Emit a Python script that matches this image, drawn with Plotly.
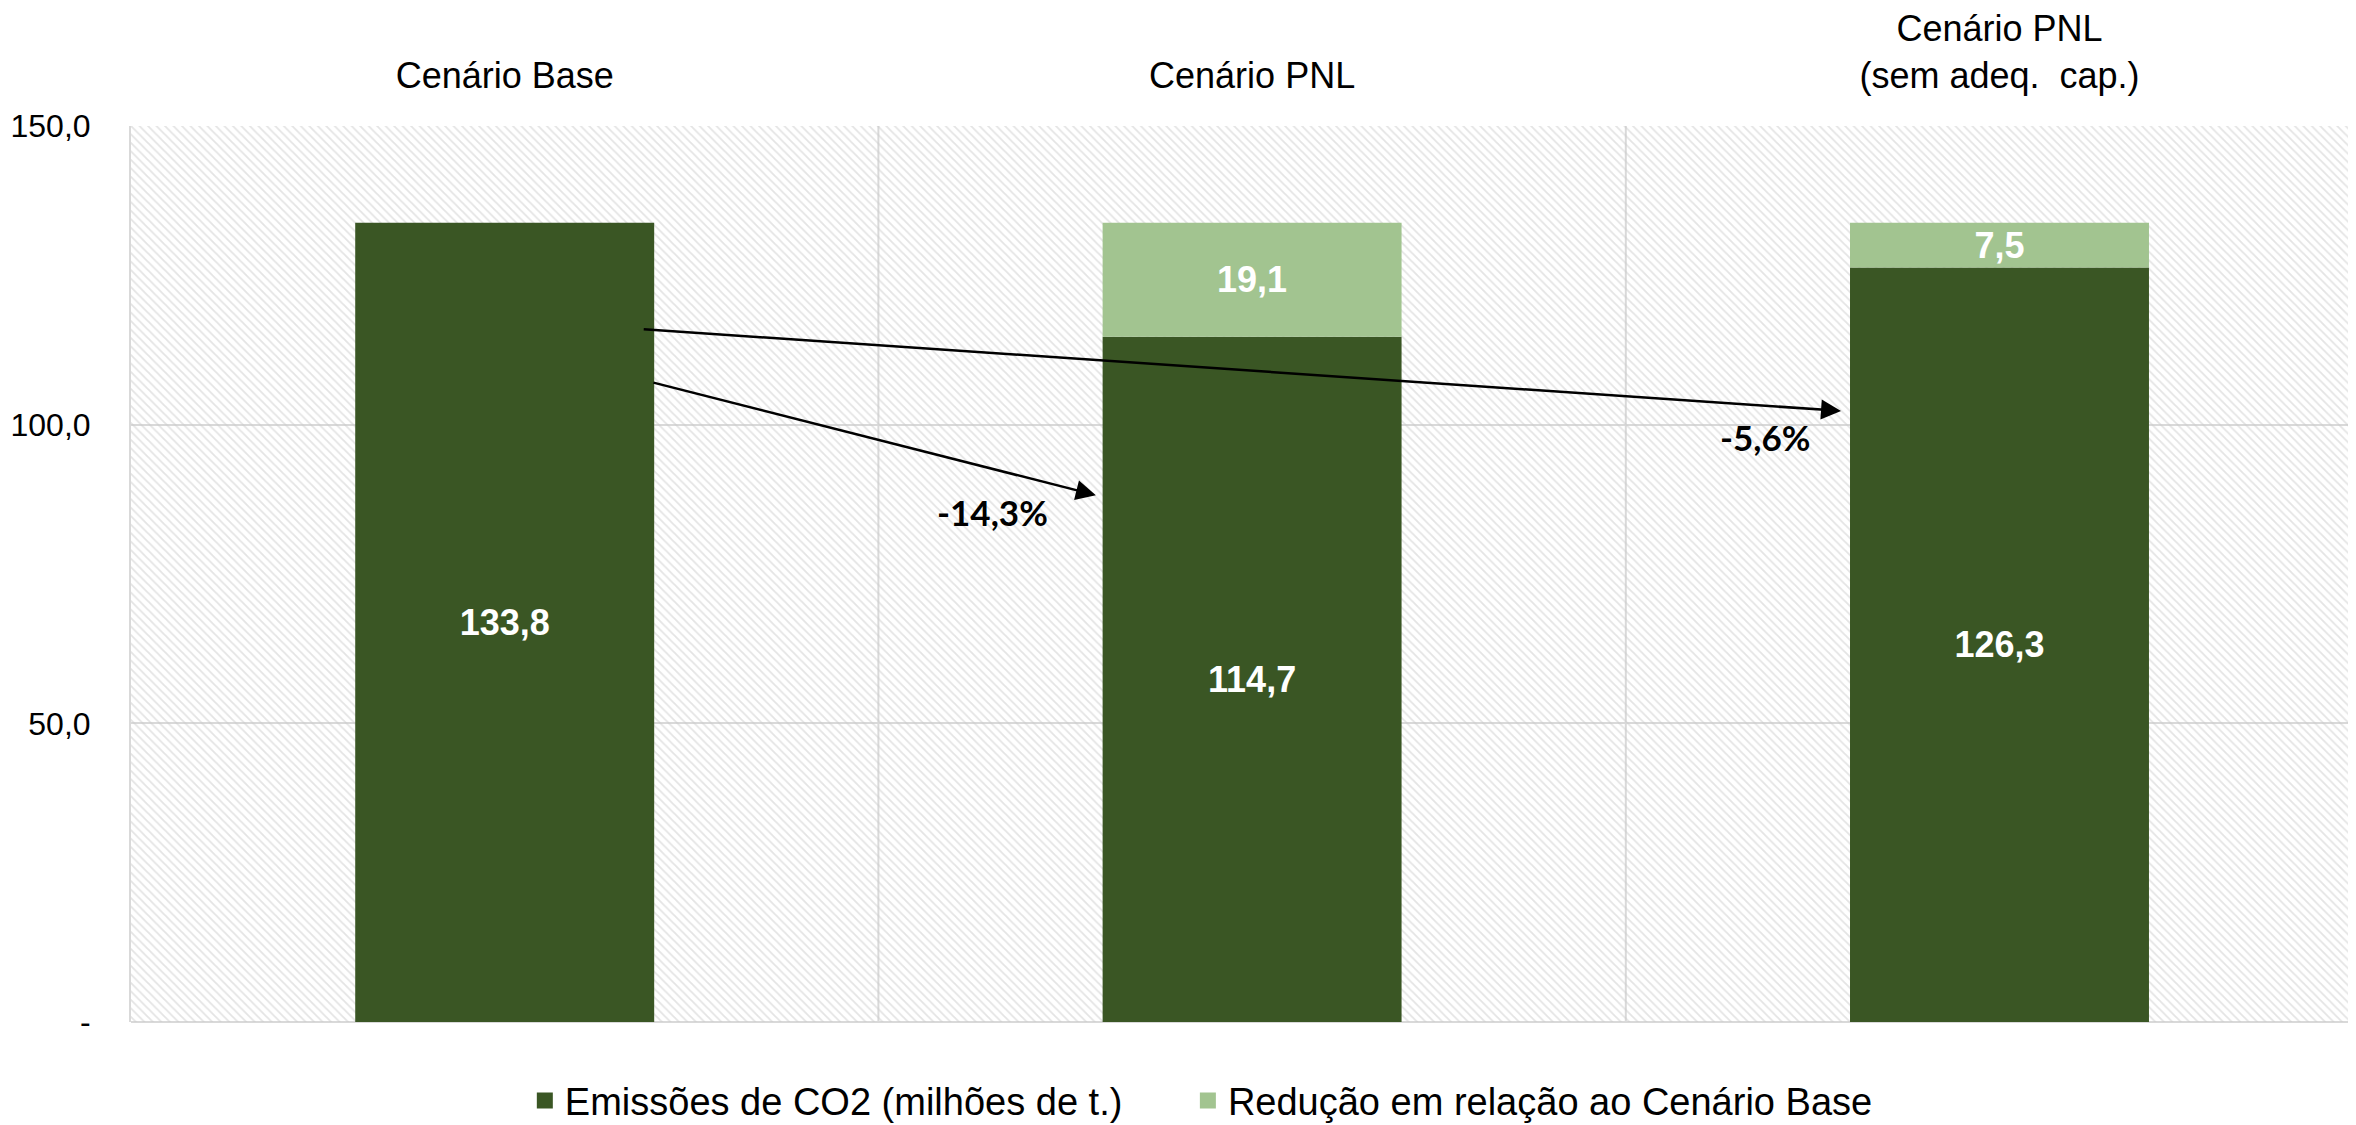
import plotly.graph_objects as go

# Data
categories = ['Cenário Base', 'Cenário PNL', 'Cenário PNL<br>(sem adeq.  cap.)']
emissoes = [133.8, 114.7, 126.3]
reducao = [None, 19.1, 7.5]
fundo = [150, 150, 150]

y_ticks = [0, 50, 100, 150]
y_tick_labels = ['-', '50,0', '100,0', '150,0']

# variation arrows: (category position, value) start / end, label position
variacao_labels = ['-14,3%', '-5,6%']
arrow_from = [(0.197, 107.1), (0.184, 116.0)]
arrow_to = [(0.791, 88.2), (1.788, 102.3)]
label_at = [(0.653, 85.4), (1.687, 97.9)]

DARK = '#3A5624'
LIGHT = '#A2C490'
GRID = '#D9D9D9'
FONT = 'Liberation Sans, Arial, sans-serif'

fig = go.Figure()

# hatched plot background
fig.add_trace(go.Bar(
    x=categories, y=fundo, width=1,
    marker=dict(
        color='rgba(0,0,0,0)',
        line=dict(width=0),
        pattern=dict(shape='\\', fgcolor='#CACACA', bgcolor='rgba(0,0,0,0)',
                     size=6, solidity=0.3),
    ),
    showlegend=False, hoverinfo='skip',
))

fig.add_trace(go.Bar(
    x=categories, y=emissoes, width=0.4,
    name='Emissões de CO2 (milhões de t.)',
    marker=dict(color=DARK, line=dict(width=0)),
    texttemplate='%{y:.1f}', textposition='inside', insidetextanchor='middle',
    textfont=dict(family=FONT, size=36, color='white', weight='bold'),
    constraintext='none', showlegend=False,
))

fig.add_trace(go.Bar(
    x=categories, y=reducao, base=emissoes, width=0.4,
    name='Redução em relação ao Cenário Base',
    marker=dict(color=LIGHT, line=dict(width=0)),
    texttemplate='%{y:.1f}', textposition='inside', insidetextanchor='middle',
    textfont=dict(family=FONT, size=36, color='white', weight='bold'),
    constraintext='none', showlegend=False,
))

# legend entries with larger square swatches, one legend box per entry
for name, color, leg in [('Emissões de CO2 (milhões de t.)', DARK, 'legend'),
                         ('Redução em relação ao Cenário Base', LIGHT, 'legend2')]:
    fig.add_trace(go.Scatter(
        x=[None], y=[None], mode='markers', name=name, legend=leg,
        marker=dict(symbol='square', size=19, color=color),
    ))

# vertical separators between scenarios
for xv in [0.5, 1.5]:
    fig.add_shape(type='line', x0=xv, x1=xv, y0=0, y1=150, xref='x', yref='y',
                  line=dict(color=GRID, width=2), layer='below')

for (x0, y0), (x1, y1), (lx, ly), txt in zip(arrow_from, arrow_to, label_at, variacao_labels):
    fig.add_annotation(x=x1, y=y1, ax=x0, ay=y0, xref='x', yref='y', axref='x', ayref='y',
                       text='', showarrow=True, arrowhead=2, arrowsize=1.6,
                       arrowwidth=2.5, arrowcolor='black')
    fig.add_annotation(x=lx, y=ly, xref='x', yref='y', text=txt, showarrow=False,
                       font=dict(family='Lato, Liberation Sans, sans-serif', size=35,
                                 color='black', weight='bold'))

legend_style = dict(orientation='h', xanchor='left', y=-0.088, yanchor='middle',
                    font=dict(size=38, color='black'), itemwidth=30,
                    bgcolor='rgba(0,0,0,0)')

# the page body adds an 8px offset, so the figure is sized to the visible window
fig.update_layout(
    width=2348, height=1117,
    barmode='overlay',
    separators=',.',
    plot_bgcolor='white', paper_bgcolor='white',
    margin=dict(l=123, r=0, t=118, b=103, autoexpand=False),
    font=dict(family=FONT, color='black'),
    legend=dict(x=0.177, **legend_style),
    legend2=dict(x=0.475, **legend_style),
    xaxis=dict(
        type='category', side='top', range=[-0.5, 2.477], automargin=False,
        showgrid=False, showline=False, ticks='',
        tickfont=dict(size=36, color='black'), ticklabelstandoff=30,
    ),
    yaxis=dict(
        range=[0, 150], tickvals=y_ticks, ticktext=y_tick_labels, automargin=False,
        showgrid=True, gridcolor=GRID, gridwidth=2,
        zeroline=True, zerolinecolor=GRID, zerolinewidth=2,
        showline=True, linecolor=GRID, linewidth=2,
        ticks='', tickfont=dict(size=32, color='black'), ticklabelstandoff=32,
    ),
)

fig.write_html('out.html')
